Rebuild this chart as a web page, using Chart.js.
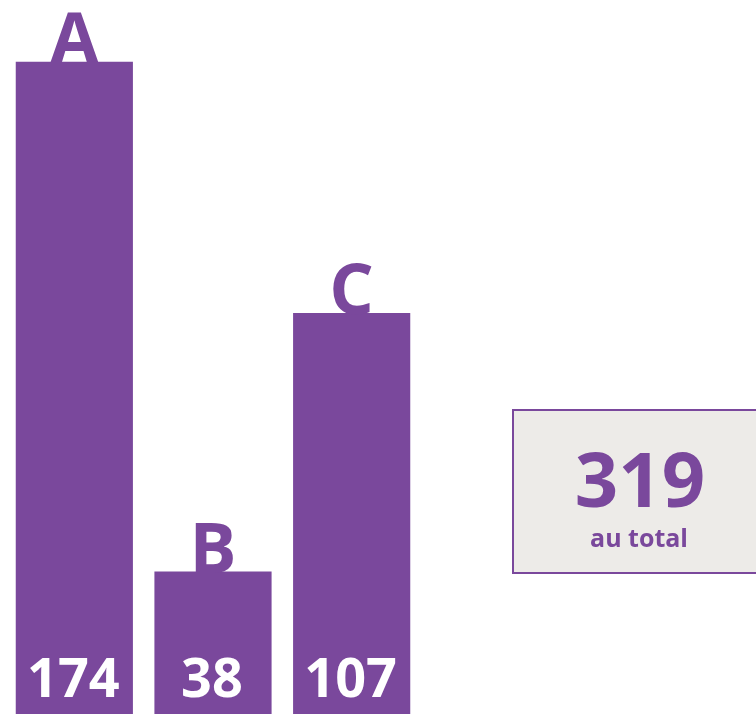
<!DOCTYPE html>
<html>
<head>
<meta charset="utf-8">
<script src="https://cdn.jsdelivr.net/npm/chart.js@4/dist/chart.umd.min.js"></script>
<style>
  html, body { margin: 0; padding: 0; background: #fff; }
  #wrap { width: 756px; height: 714px; position: relative; }
</style>
</head>
<body>
<div id="wrap"><canvas id="chart"></canvas></div>
<script>
const categories = ['A', 'B', 'C'];
const values = [174, 38, 107];
const totalLabel = 'au total';

const purple = '#7A489C';

// draws category letter above each bar, value at the bottom, and the total box
const labelsPlugin = {
  id: 'barLabels',
  afterDatasetsDraw(chart) {
    const ctx = chart.ctx;
    const meta = chart.getDatasetMeta(0);
    ctx.save();
    meta.data.forEach((bar, i) => {
      ctx.textAlign = 'center';
      ctx.textBaseline = 'alphabetic';
      ctx.fillStyle = purple;
      ctx.font = 'bold 70px "Open Sans"';
      ctx.fillText(categories[i], bar.x, bar.y + 1);
      ctx.fillStyle = '#fff';
      ctx.font = 'bold 54px "Open Sans"';
      ctx.fillText(String(values[i]), bar.x - 1, bar.base - 17);
    });

    // total box
    const total = values.reduce((a, b) => a + b, 0);
    ctx.fillStyle = '#EDEBE8';
    ctx.fillRect(513, 410, 250, 163);
    ctx.strokeStyle = purple;
    ctx.lineWidth = 2;
    ctx.strokeRect(513, 410, 250, 163);
    ctx.fillStyle = purple;
    ctx.textAlign = 'center';
    ctx.font = 'bold 76px "Open Sans"';
    ctx.fillText(String(total), 640, 507);
    ctx.font = 'bold 25px "Open Sans"';
    ctx.fillText(totalLabel, 639, 547);
    ctx.restore();
  }
};

new Chart(document.getElementById('chart'), {
  type: 'bar',
  data: {
    labels: categories,
    datasets: [{
      data: values,
      backgroundColor: purple,
      borderWidth: 0,
      categoryPercentage: 1,
      barPercentage: 0.845
    }]
  },
  options: {
    responsive: true,
    maintainAspectRatio: false,
    animation: false,
    layout: { padding: { left: 5, right: 335, top: 0, bottom: 0 } },
    plugins: { legend: { display: false }, tooltip: { enabled: false } },
    scales: {
      x: { display: false },
      y: { display: false, min: 0, max: 190.5 }
    }
  },
  plugins: [labelsPlugin]
});
</script>
</body>
</html>
